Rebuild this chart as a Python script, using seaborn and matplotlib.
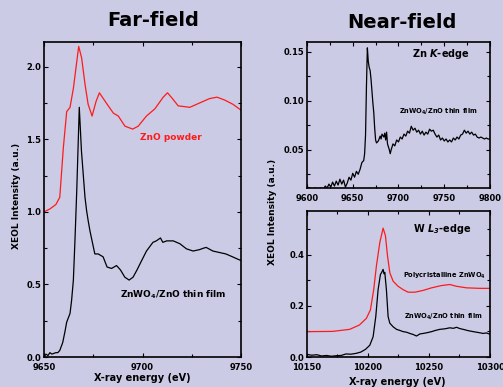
import numpy as np
import matplotlib.pyplot as plt
import seaborn as sns

# ---------------------------------------------------------------------------
# Data
# ---------------------------------------------------------------------------
# Far-field, ZnO powder (red)
far_zno_e = [9650, 9653, 9656, 9658, 9659.8, 9661.5, 9663.2, 9664.9, 9667.6, 9669.1,
             9670.8, 9672.4, 9674.4, 9676.4, 9678.1, 9680.1, 9682.1, 9685.2, 9687.7,
             9691.1, 9695, 9697.8, 9702, 9706.3, 9710.5, 9712.7, 9715.2, 9718.1, 9724,
             9729, 9734, 9737.8, 9741.7, 9746, 9750]
far_zno_i = [1.0, 1.02, 1.05, 1.10, 1.44, 1.69, 1.72, 1.85, 2.14, 2.06,
             1.88, 1.74, 1.66, 1.76, 1.82, 1.78, 1.74, 1.68, 1.66,
             1.59, 1.57, 1.59, 1.66, 1.71, 1.79, 1.82, 1.78, 1.73, 1.72,
             1.75, 1.78, 1.79, 1.77, 1.74, 1.70]

# Far-field, ZnWO4/ZnO thin film (black)
far_film_e = [9650, 9651, 9652, 9653, 9654, 9655, 9656, 9657, 9658, 9659.5, 9660.7,
              9661.5, 9663.2, 9664, 9664.9, 9665.7, 9666.6, 9667.9, 9669, 9670.8,
              9671.6, 9672.4, 9673.3, 9674.7, 9675.8, 9677.5, 9680, 9682, 9684.3,
              9686.8, 9688.8, 9691, 9693.2, 9695.2, 9697.2, 9699.4, 9702, 9705.3,
              9707, 9709.1, 9710.3, 9712.3, 9715.6, 9719, 9722.3, 9725.7, 9729,
              9731, 9732.3, 9735.7, 9739, 9742.3, 9745.7, 9749, 9750]
far_film_i = [0.0, 0.02, 0.01, 0.03, 0.02, 0.025, 0.03, 0.03, 0.045, 0.10, 0.18,
              0.24, 0.30, 0.39, 0.53, 0.80, 1.14, 1.72, 1.42, 1.10,
              1.01, 0.94, 0.87, 0.78, 0.71, 0.71, 0.69, 0.62, 0.61,
              0.63, 0.60, 0.55, 0.53, 0.55, 0.60, 0.66, 0.73, 0.79,
              0.80, 0.82, 0.79, 0.80, 0.80, 0.78, 0.745, 0.73, 0.74,
              0.75, 0.755, 0.73, 0.72, 0.71, 0.69, 0.67, 0.665]

# Near-field, Zn K-edge
zn_e = [9600, 9603, 9606, 9609, 9612, 9615, 9618, 9620, 9622, 9624, 9626, 9628, 9630,
        9632, 9634, 9636, 9638, 9640, 9642, 9644, 9646, 9648, 9650, 9652, 9654, 9656,
        9658, 9660, 9662, 9663, 9664, 9665, 9666, 9667, 9668, 9669, 9670, 9671, 9672,
        9673, 9674, 9675, 9676, 9678, 9680, 9681, 9682, 9684, 9685, 9686, 9687, 9688,
        9690, 9691, 9692, 9694, 9696, 9698, 9700, 9702, 9704, 9706, 9708, 9710, 9712,
        9714, 9716, 9718, 9720, 9722, 9724, 9726, 9728, 9730, 9732, 9734, 9736, 9738,
        9740, 9742, 9744, 9746, 9748, 9750, 9752, 9754, 9756, 9758, 9760, 9762, 9764,
        9766, 9768, 9770, 9772, 9774, 9776, 9778, 9780, 9782, 9784, 9786, 9788, 9790,
        9792, 9794, 9796, 9798, 9800]
zn_i = [0.012, 0.011, 0.010, 0.011, 0.010, 0.011, 0.010, 0.013, 0.011, 0.015, 0.012,
        0.017, 0.013, 0.018, 0.014, 0.020, 0.015, 0.019, 0.012, 0.016, 0.022, 0.019,
        0.026, 0.022, 0.028, 0.025, 0.030, 0.037, 0.039, 0.046, 0.065, 0.115, 0.154,
        0.140, 0.134, 0.131, 0.122, 0.110, 0.098, 0.088, 0.072, 0.060, 0.057, 0.059,
        0.064, 0.061, 0.066, 0.063, 0.067, 0.060, 0.068, 0.056, 0.050, 0.046, 0.050,
        0.056, 0.054, 0.060, 0.058, 0.063, 0.061, 0.066, 0.064, 0.069, 0.067, 0.074,
        0.070, 0.072, 0.068, 0.070, 0.066, 0.069, 0.065, 0.068, 0.066, 0.071, 0.069,
        0.070, 0.066, 0.063, 0.065, 0.060, 0.062, 0.059, 0.061, 0.058, 0.060, 0.058,
        0.062, 0.060, 0.063, 0.061, 0.065, 0.066, 0.070, 0.067, 0.069, 0.066, 0.068,
        0.065, 0.066, 0.063, 0.062, 0.063, 0.062, 0.061, 0.062, 0.061, 0.061]

# Near-field, W L3-edge, polycrystalline ZnWO4 (red)
w_poly_e = [10150, 10171, 10185, 10193, 10198.7, 10202, 10204.7, 10206.9, 10209.7,
            10212.4, 10214.3, 10216, 10217.9, 10220.6, 10224.7, 10228.8, 10232.9,
            10238.4, 10245.2, 10252.1, 10260.3, 10267.1, 10272.6, 10280.8, 10291.8, 10300]
w_poly_i = [0.099, 0.100, 0.108, 0.125, 0.151, 0.184, 0.263, 0.355, 0.447,
            0.503, 0.474, 0.395, 0.329, 0.296, 0.276, 0.263, 0.253,
            0.253, 0.260, 0.270, 0.279, 0.283, 0.276, 0.270, 0.268, 0.268]

# Near-field, W L3-edge, ZnWO4/ZnO thin film (black)
w_film_e = [10150, 10154, 10158, 10162, 10166, 10170, 10174, 10178, 10182, 10186,
            10190, 10194, 10198, 10201.5, 10204.2, 10206.4, 10208.3, 10210.2, 10211.2,
            10212.4, 10213.2, 10213.8, 10215.1, 10216.5, 10217.9, 10220.6, 10223.4,
            10226, 10228.8, 10231.5, 10234.3, 10237, 10239.8, 10242.5, 10245.2, 10248.6,
            10252.1, 10255.5, 10258.9, 10263, 10267.1, 10270, 10272.6, 10275.3, 10278,
            10282, 10286.3, 10290, 10294.5, 10297, 10300]
w_film_i = [0.010, 0.007, 0.009, 0.004, 0.006, 0.003, 0.005, 0.006, 0.012, 0.011,
            0.014, 0.019, 0.030, 0.046, 0.079, 0.158, 0.263, 0.322, 0.330,
            0.342, 0.325, 0.330, 0.263, 0.158, 0.132, 0.118, 0.108,
            0.104, 0.099, 0.097, 0.092, 0.088, 0.082, 0.090, 0.092, 0.095,
            0.099, 0.104, 0.108, 0.110, 0.114, 0.112, 0.116, 0.111, 0.108,
            0.103, 0.099, 0.096, 0.092, 0.094, 0.089]

# ---------------------------------------------------------------------------
# Style
# ---------------------------------------------------------------------------
sns.set_theme(style="ticks")
plt.rcParams["font.family"] = ["DejaVu Sans"]
plt.rcParams["font.weight"] = "bold"
plt.rcParams["mathtext.fontset"] = "dejavusans"
plt.rcParams["text.color"] = "black"
plt.rcParams["axes.labelcolor"] = "black"
plt.rcParams["xtick.color"] = "black"
plt.rcParams["ytick.color"] = "black"
bg = "#cbcbe6"
red = "#ff1a1a"

fig = plt.figure(figsize=(5.03, 3.87), dpi=100)
fig.patch.set_facecolor(bg)

ax_far = fig.add_axes([0.0875, 0.0775, 0.3917, 0.814])
ax_zn = fig.add_axes([0.6103, 0.5142, 0.3638, 0.3773])
ax_w = fig.add_axes([0.6103, 0.0775, 0.3638, 0.3773])


def style_axes(ax):
    ax.set_facecolor("none")
    for s in ax.spines.values():
        s.set_linewidth(1.2)
        s.set_color("black")
    ax.tick_params(which="both", direction="in", top=True, right=True,
                   labelsize=6, width=0.8, color="black", labelcolor="black")
    ax.tick_params(axis="y", which="both", pad=2)
    ax.tick_params(axis="x", which="both", pad=4)
    ax.tick_params(which="major", length=3)
    ax.tick_params(which="minor", length=2)
    for lab in ax.get_xticklabels() + ax.get_yticklabels():
        lab.set_fontweight("bold")
    ax.set_xlabel("")
    ax.set_ylabel("")


# Far-field panel
sns.lineplot(x=far_zno_e, y=far_zno_i, ax=ax_far, color=red, lw=0.9,
             estimator=None, sort=False)
sns.lineplot(x=far_film_e, y=far_film_i, ax=ax_far, color="black", lw=0.9,
             estimator=None, sort=False)
ax_far.set_xlim(9650, 9750)
ax_far.set_ylim(0, 2.17)
ax_far.set_xticks([9650, 9700, 9750])
ax_far.set_xticks(np.arange(9650, 9751, 25), minor=True)
ax_far.set_yticks([0.0, 0.5, 1.0, 1.5, 2.0])
ax_far.set_yticks(np.arange(0, 2.2, 0.25), minor=True)
ax_far.set_yticklabels(["0.0", "0.5", "1.0", "1.5", "2.0"])
style_axes(ax_far)
ax_far.text(9714.5, 1.51, "ZnO powder", color=red, fontsize=6.5,
            fontweight="bold", ha="center", va="center")
ax_far.text(9715.5, 0.43, "ZnWO$_4$/ZnO thin film", color="black", fontsize=6.5,
            fontweight="bold", ha="center", va="center")

# Zn K-edge panel
sns.lineplot(x=zn_e, y=zn_i, ax=ax_zn, color="black", lw=0.9,
             estimator=None, sort=False)
ax_zn.set_xlim(9600, 9800)
ax_zn.set_ylim(0.011, 0.160)
ax_zn.set_xticks([9600, 9650, 9700, 9750, 9800])
ax_zn.set_xticks(np.arange(9600, 9801, 25), minor=True)
ax_zn.set_yticks([0.05, 0.10, 0.15])
ax_zn.set_yticks([0.025, 0.075, 0.125], minor=True)
ax_zn.set_yticklabels(["0.05", "0.10", "0.15"])
style_axes(ax_zn)
ax_zn.text(0.73, 0.92, "Zn $\\mathbfit{K}$-edge", transform=ax_zn.transAxes,
           fontsize=7, fontweight="bold", ha="center", va="center")
ax_zn.text(0.72, 0.52, "ZnWO$_4$/ZnO thin film", transform=ax_zn.transAxes,
           fontsize=4.8, fontweight="bold", ha="center", va="center")

# W L3-edge panel
sns.lineplot(x=w_poly_e, y=w_poly_i, ax=ax_w, color=red, lw=0.9,
             estimator=None, sort=False)
sns.lineplot(x=w_film_e, y=w_film_i, ax=ax_w, color="black", lw=0.9,
             estimator=None, sort=False)
ax_w.set_xlim(10150, 10300)
ax_w.set_ylim(0, 0.57)
ax_w.set_xticks([10150, 10200, 10250, 10300])
ax_w.set_xticks(np.arange(10150, 10301, 25), minor=True)
ax_w.set_yticks([0.0, 0.2, 0.4])
ax_w.set_yticks([0.1, 0.3, 0.5], minor=True)
ax_w.set_yticklabels(["0.0", "0.2", "0.4"])
style_axes(ax_w)
ax_w.text(0.74, 0.88, "W $\\mathbfit{L}_{\\mathbfit{3}}$-edge", transform=ax_w.transAxes,
          fontsize=7, fontweight="bold", ha="center", va="center")
ax_w.text(0.75, 0.555, "Polycristalline ZnWO$_4$", transform=ax_w.transAxes,
          fontsize=4.8, fontweight="bold", ha="center", va="center")
ax_w.text(0.745, 0.275, "ZnWO$_4$/ZnO thin film", transform=ax_w.transAxes,
          fontsize=4.8, fontweight="bold", ha="center", va="center")

# Titles and axis labels
fig.text(0.304, 0.948, "Far-field", fontsize=14, fontweight="bold",
         ha="center", va="center")
fig.text(0.799, 0.943, "Near-field", fontsize=14, fontweight="bold",
         ha="center", va="center")
fig.text(0.032, 0.494, "XEOL Intensity (a.u.)", rotation=90, fontsize=6.5,
         fontweight="bold", ha="center", va="center")
fig.text(0.541, 0.452, "XEOL Intensity (a.u.)", rotation=90, fontsize=6.5,
         fontweight="bold", ha="center", va="center")
fig.text(0.283, 0.022, "X-ray energy (eV)", fontsize=7, fontweight="bold",
         ha="center", va="center")
fig.text(0.79, 0.014, "X-ray energy (eV)", fontsize=7, fontweight="bold",
         ha="center", va="center")

fig.savefig("out.png", dpi=100, facecolor=bg)
plt.close(fig)
